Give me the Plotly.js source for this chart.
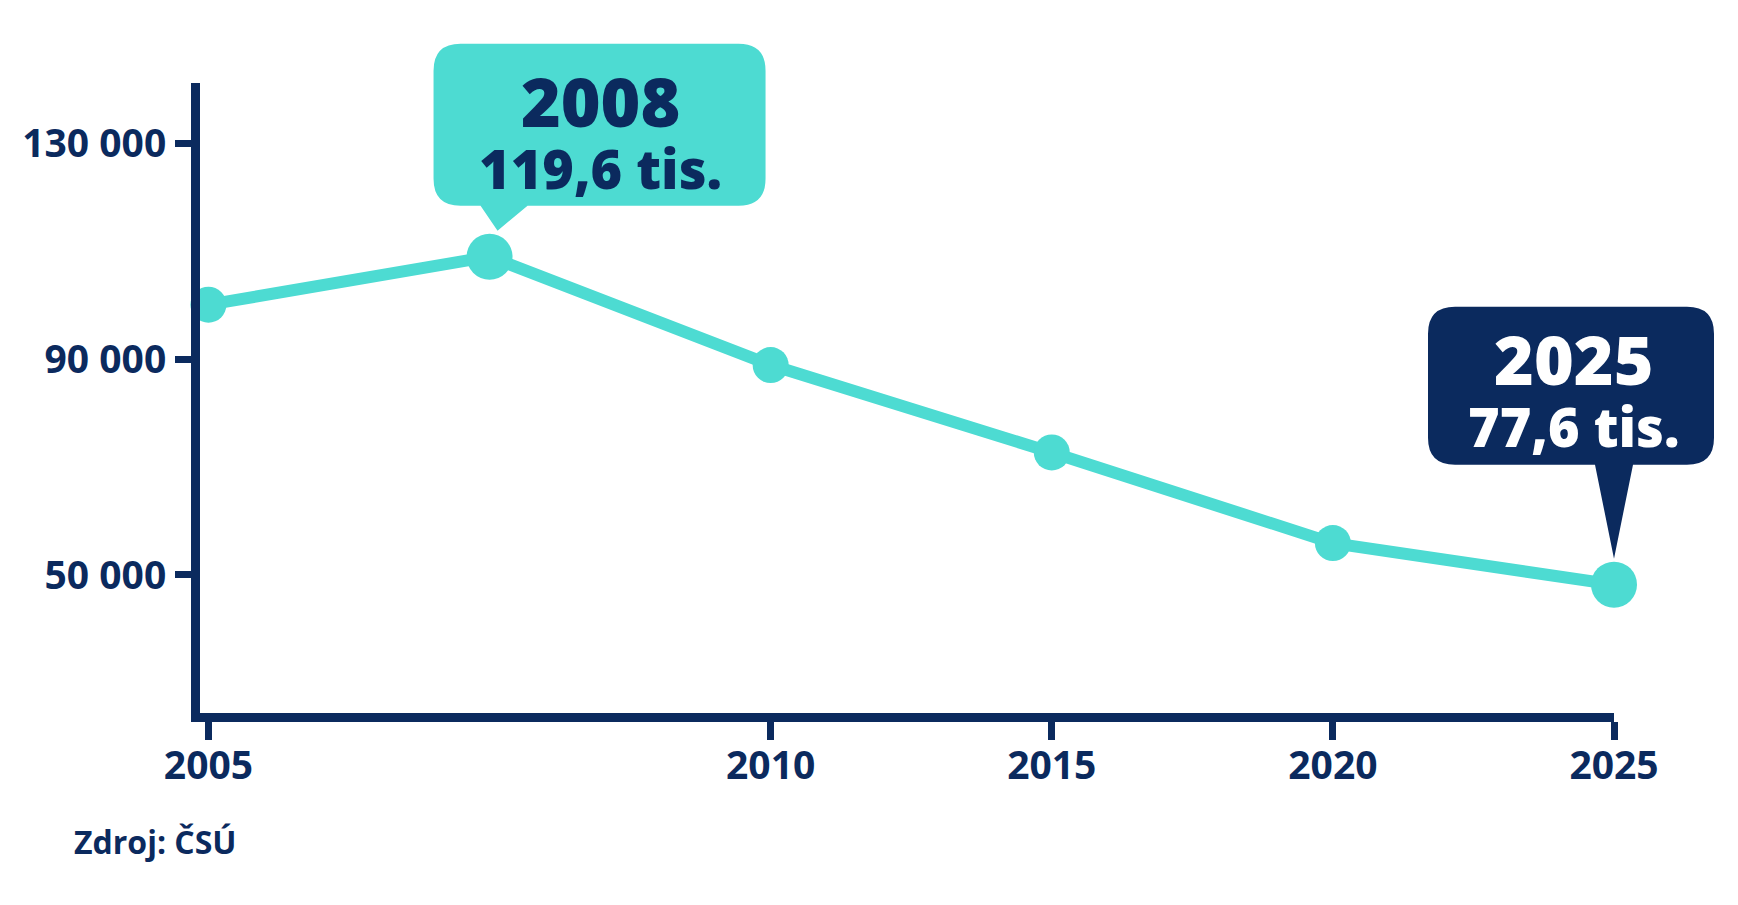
<!DOCTYPE html>
<html>
<head>
<meta charset="utf-8">
<script src="https://cdn.plot.ly/plotly-3.0.1.min.js"></script>
<style>
  html, body { margin: 0; padding: 0; background: #ffffff; }
  #chart { width: 1738px; height: 905px; }
</style>
</head>
<body>
<div id="chart"></div>
<script>
// values (live births)
var years = ['2005', '2008', '2010', '2015', '2020', '2025']
var births = [100100, 109000, 88900, 72700, 55900, 48200]

var xTickYears = ['2005', '2010', '2015', '2020', '2025']
var yTickVals = [50000, 90000, 130000]
var yTickText = ['50 000', '90 000', '130 000']

var calloutYears = ['2008', '2025']
var calloutValues = ['119,6 tis.', '77,6 tis.']
var sourceText = 'Zdroj: ČSÚ'

var NAVY = '#0b2a5e'
var TEAL = '#4ddbd2'
var FONT = 'Open Sans, Noto Sans, sans-serif'

var xRange = [-0.03, 5]
var yRange = [24400, 141200]

// shapes on data axes get clipped to the plot, so the bubbles are placed
// in paper space at the same spot the axes put the point
function xFrac(idx) { return (idx - xRange[0]) / (xRange[1] - xRange[0]) }
function yFrac(v) { return (v - yRange[0]) / (yRange[1] - yRange[0]) }

// rounded speech bubble, pixel offsets from the anchor point (y up)
function bubblePath(left, right, top, bottom, r, tailL, tailR, tipX, tipY) {
  return 'M' + (left + r) + ',' + top +
    ' H' + (right - r) +
    ' Q' + right + ',' + top + ' ' + right + ',' + (top - r) +
    ' V' + (bottom + r) +
    ' Q' + right + ',' + bottom + ' ' + (right - r) + ',' + bottom +
    ' H' + tailR +
    ' L' + tipX + ',' + tipY +
    ' L' + tailL + ',' + bottom +
    ' H' + (left + r) +
    ' Q' + left + ',' + bottom + ' ' + left + ',' + (bottom + r) +
    ' V' + (top - r) +
    ' Q' + left + ',' + top + ' ' + (left + r) + ',' + top +
    ' Z'
}

var bubbleStyle = {
  '2008': {fill: TEAL, text: NAVY, box: [-56, 276, 213, 51], tail: [-9, 38, 8, 26], dx: 111, dy: 127},
  '2025': {fill: NAVY, text: '#ffffff', box: [-186, 100, 278, 120], tail: [-19, 19, 0, 26], dx: -40, dy: 197}
}

var shapes = []
var annotations = []

calloutYears.forEach(function(yr, i) {
  // category index (the year strings look numeric to Plotly)
  var idx = years.indexOf(yr)
  var s = bubbleStyle[yr]
  shapes.push({
    type: 'path',
    xref: 'paper', yref: 'paper',
    xsizemode: 'pixel', ysizemode: 'pixel',
    xanchor: xFrac(idx), yanchor: yFrac(births[idx]),
    path: bubblePath(s.box[0], s.box[1], s.box[2], s.box[3], 27, s.tail[0], s.tail[1], s.tail[2], s.tail[3]),
    fillcolor: s.fill,
    line: {width: 0},
    layer: 'above'
  })
  annotations.push({
    x: idx, y: births[idx], xref: 'x', yref: 'y',
    text: '<span style="font-size:68px">' + yr + '</span><br>' +
          '<span style="font-size:54px">' + calloutValues[i] + '</span>',
    showarrow: false, xanchor: 'center', yanchor: 'middle', align: 'center',
    xshift: s.dx, yshift: s.dy,
    font: {family: FONT, size: 48, color: s.text, weight: 800}
  })
})

annotations.push({
  x: 0, y: 0, xref: 'paper', yref: 'paper',
  xshift: -128, yshift: -128,
  xanchor: 'left', yanchor: 'middle',
  text: sourceText,
  showarrow: false,
  font: {family: FONT, size: 32, color: NAVY, weight: 700}
})

var trace = {
  x: years,
  y: births,
  type: 'scatter',
  mode: 'lines+markers',
  line: {color: TEAL, width: 12},
  marker: {
    color: TEAL,
    opacity: 1,
    line: {width: 0},
    size: years.map(function(y) { return calloutYears.indexOf(y) != -1 ? 46 : 36 })
  },
  cliponaxis: false,
  hoverinfo: 'skip'
}

var layout = {
  width: 1738,
  height: 905,
  margin: {l: 200, r: 124, t: 83, b: 192},
  paper_bgcolor: '#ffffff',
  plot_bgcolor: '#ffffff',
  showlegend: false,
  xaxis: {
    type: 'category',
    range: xRange,
    showgrid: false,
    zeroline: false,
    showline: true,
    linecolor: NAVY,
    linewidth: 9,
    ticks: 'outside',
    ticklen: 18,
    tickwidth: 7,
    tickcolor: NAVY,
    tickmode: 'array',
    tickvals: xTickYears,
    ticktext: xTickYears,
    ticklabelstandoff: -8,
    tickfont: {family: FONT, size: 39, color: NAVY, weight: 700},
    fixedrange: true
  },
  yaxis: {
    range: yRange,
    showgrid: false,
    zeroline: false,
    showline: true,
    linecolor: NAVY,
    linewidth: 9,
    ticks: 'outside',
    ticklen: 16,
    tickwidth: 7,
    tickcolor: NAVY,
    tickmode: 'array',
    tickvals: yTickVals,
    ticktext: yTickText,
    ticklabelstandoff: 1,
    tickfont: {family: FONT, size: 39, color: NAVY, weight: 700},
    fixedrange: true
  },
  shapes: shapes,
  annotations: annotations
}

Plotly.newPlot('chart', [trace], layout, {displayModeBar: false, staticPlot: true})
</script>
</body>
</html>
